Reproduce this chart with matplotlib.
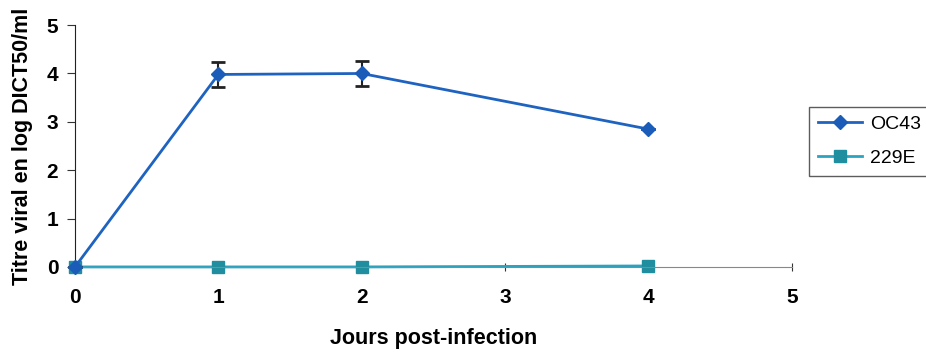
import matplotlib
matplotlib.use("Agg")
import matplotlib.pyplot as plt
from matplotlib.lines import Line2D
import numpy as np

plt.rcParams['font.family'] = ['Liberation Sans', 'DejaVu Sans']

# data
jours = [0, 1, 2, 4]
oc43 = [0.0, 3.98, 4.0, 2.85]
oc43_err = [0.0, 0.25, 0.25, 0.0]
e229 = [0.0, 0.0, 0.0, 0.02]

c_oc = '#1f63c0'
c_229 = '#2aa3c0'

fig = plt.figure(figsize=(9.26, 3.54), dpi=100)
ax = fig.add_axes([0.081, 0.246, 0.774, 0.683])

ax.plot(jours, e229, color=c_229, lw=2, marker='s', ms=8,
        mfc='#1f8fa0', mec='#1f8fa0', zorder=2, clip_on=False)
ax.errorbar(jours, oc43, yerr=oc43_err, color=c_oc, lw=2,
            marker='D', ms=7, mfc='#1a5cb8', mec='#1a5cb8',
            ecolor='#222222', elinewidth=1.5, capsize=5, capthick=2,
            zorder=3, clip_on=False)

ax.set_xlim(0, 5)
ax.set_ylim(0, 5)
ax.set_xticks(range(6))
ax.set_yticks(range(6))
for s in ['top', 'right']:
    ax.spines[s].set_visible(False)
ax.spines['left'].set_color('#222222')
ax.spines['bottom'].set_color('#888888')
ax.tick_params(axis='y', direction='out', length=6, labelsize=15,
               color='#333333', pad=6)
ax.tick_params(axis='x', direction='inout', length=6, labelsize=15,
               color='#333333', pad=12)
for t in ax.get_xticklabels() + ax.get_yticklabels():
    t.set_fontweight('bold')

ax.set_xlabel('Jours post-infection', fontsize=15.5, fontweight='bold',
              labelpad=15)
ax.set_ylabel('Titre viral en log DICT50/ml', fontsize=15.5, fontweight='bold',
              labelpad=10)

handles = [
    Line2D([], [], color=c_oc, lw=2, marker='D', ms=7, mfc='#1a5cb8', mec='#1a5cb8'),
    Line2D([], [], color=c_229, lw=2, marker='s', ms=8, mfc='#1f8fa0', mec='#1f8fa0'),
]
leg = ax.legend(handles, ['OC43', '229E'], loc='upper left',
                bbox_to_anchor=(1.024, 0.663), fontsize=14,
                frameon=True, fancybox=False, edgecolor='#333333',
                handlelength=2.3, borderaxespad=0.0, labelspacing=0.85,
                handletextpad=0.4, borderpad=0.45)
leg.get_frame().set_linewidth(1)

fig.savefig('out.png', dpi=100)
